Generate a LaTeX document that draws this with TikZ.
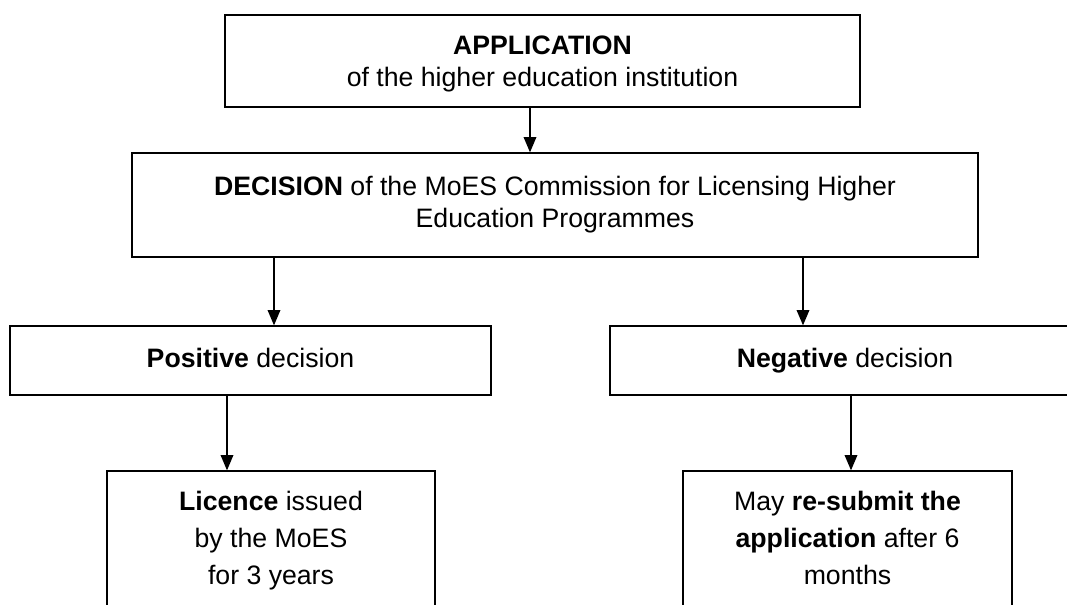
\documentclass[tikz,border=0pt]{standalone}
\usepackage{fontspec}
\setmainfont{Liberation Sans}
\usetikzlibrary{arrows.meta}
\begin{document}
\begin{tikzpicture}[x=0.75pt,y=-0.75pt,
  box/.style={draw=black,line width=1pt,rectangle,inner sep=0pt,align=center,
    text depth=4.5pt,font=\fontsize{20}{24}\selectfont},
  tallbox/.style={box,font=\fontsize{20}{27.75}\selectfont},
  arr/.style={draw=black,line width=1pt,-{Triangle[length=11.5pt,width=9.5pt]}}]
\clip (0,0) rectangle (1067,604);
\fill[white] (0,0) rectangle (1067,604);
\node[box,text depth=-3pt,minimum width=476.25pt,minimum height=69pt] (app) at (542.5,61)
  {\textbf{APPLICATION}\\of the higher education institution};
\node[box,minimum width=634.5pt,minimum height=78pt] (dec) at (555,205)
  {\textbf{DECISION} of the MoES Commission for Licensing Higher\\Education Programmes};
\node[box,minimum width=360.75pt,minimum height=51.75pt] (pos) at (250.5,360.5)
  {\textbf{Positive} decision};
\node[box,minimum width=352.5pt,minimum height=51.75pt] (neg) at (845,360.5)
  {\textbf{Negative} decision};
\node[tallbox,minimum width=246pt,minimum height=105pt] (lic) at (271,541)
  {\textbf{Licence} issued\\by the MoES\\for 3 years};
\node[tallbox,minimum width=246.75pt,minimum height=105pt] (res) at (847.5,541)
  {May \textbf{re-submit the}\\\textbf{application} after 6\\months};
\coordinate (c1) at (530,0);
\coordinate (c2) at (274,0);
\coordinate (c3) at (803,0);
\coordinate (c4) at (227,0);
\coordinate (c5) at (851,0);
\draw[arr] (app.south -| c1) -- (dec.north -| c1);
\draw[arr] (dec.south -| c2) -- (pos.north -| c2);
\draw[arr] (dec.south -| c3) -- (neg.north -| c3);
\draw[arr] (pos.south -| c4) -- (lic.north -| c4);
\draw[arr] (neg.south -| c5) -- (res.north -| c5);
\end{tikzpicture}
\end{document}
